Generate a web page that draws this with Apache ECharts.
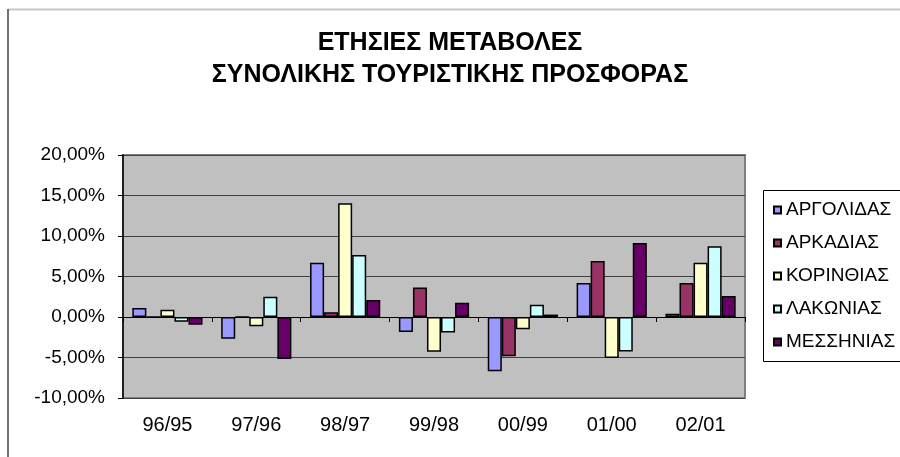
<!DOCTYPE html>
<html>
<head>
<meta charset="utf-8">
<script src="https://cdn.jsdelivr.net/npm/echarts@6/dist/echarts.min.js"></script>
<style>html,body{margin:0;padding:0;background:#fff;}#c{width:900px;height:457px;}</style>
</head>
<body>
<div id="c"></div>
<script>
const titleLines = ['ΕΤΗΣΙΕΣ ΜΕΤΑΒΟΛΕΣ', 'ΣΥΝΟΛΙΚΗΣ ΤΟΥΡΙΣΤΙΚΗΣ ΠΡΟΣΦΟΡΑΣ'];
const categories = ['96/95', '97/96', '98/97', '99/98', '00/99', '01/00', '02/01'];
const seriesNames = ['ΑΡΓΟΛΙΔΑΣ', 'ΑΡΚΑΔΙΑΣ', 'ΚΟΡΙΝΘΙΑΣ', 'ΛΑΚΩΝΙΑΣ', 'ΜΕΣΣΗΝΙΑΣ'];
const argolidas = [0.011, -0.027, 0.067, -0.0185, -0.067, 0.042, 0.004];
const arkadias  = [0.0, 0.0, 0.006, 0.0365, -0.0485, 0.069, 0.042];
const korinthias = [0.009, -0.0115, 0.1405, -0.043, -0.015, -0.0505, 0.067];
const lakonias  = [-0.006, 0.025, 0.0765, -0.019, 0.015, -0.0425, 0.0875];
const messinias = [-0.0095, -0.052, 0.021, 0.0175, 0.003, 0.0915, 0.026];
const yTicks = { min: -0.1, max: 0.2, interval: 0.05 };

const seriesData = [argolidas, arkadias, korinthias, lakonias, messinias];
const colors = ['#9999FF', '#993366', '#FFFFCC', '#CCFFFF', '#660066'];
const FONT = "'Liberation Sans', Arial, sans-serif";

const chart = echarts.init(document.getElementById('c'), null, { renderer: 'canvas' });
chart.setOption({
  animation: false,
  backgroundColor: '#ffffff',
  textStyle: { fontFamily: FONT },
  title: {
    text: titleLines.join('\n'),
    left: 'center',
    top: 27,
    padding: 0,
    textStyle: { fontFamily: FONT, fontSize: 25, fontWeight: 'bold', color: '#000', lineHeight: 32 }
  },
  graphic: [
    { type: 'line', shape: { x1: 8, y1: 9.5, x2: 900, y2: 9.5 }, style: { stroke: '#c8c8c8', lineWidth: 2 } },
    { type: 'line', shape: { x1: 8, y1: 9, x2: 8, y2: 457 }, style: { stroke: '#444', lineWidth: 1.5 } },
    { type: 'rect', shape: { x: 763.5, y: 190.5, width: 150, height: 171 }, style: { fill: '#fff', stroke: '#000', lineWidth: 1 }, z: 0 }
  ],
  legend: {
    orient: 'vertical',
    left: 773,
    top: 200,
    padding: 0,
    itemGap: 13,
    itemWidth: 7,
    itemHeight: 7,
    icon: 'rect',
    textStyle: { fontFamily: FONT, fontSize: 19, color: '#000', lineHeight: 20 },
    data: seriesNames,
    z: 5
  },
  grid: {
    left: 123, right: 155, top: 155, bottom: 59,
    show: true, backgroundColor: '#C0C0C0', borderColor: '#808080', borderWidth: 2
  },
  xAxis: [
    {
      type: 'category', data: categories, position: 'bottom',
      axisLine: { show: false, onZero: false }, axisTick: { show: false },
      axisLabel: { color: '#000', fontSize: 20, fontFamily: FONT, margin: 17 },
      splitLine: { show: false }
    },
    {
      type: 'category', data: categories, position: 'bottom',
      axisLine: { show: true, onZero: true, lineStyle: { color: '#000', width: 1 } },
      axisTick: { show: true, length: 5, lineStyle: { color: '#000' } },
      axisLabel: { show: false }, splitLine: { show: false }
    }
  ],
  yAxis: {
    type: 'value', min: yTicks.min, max: yTicks.max, interval: yTicks.interval,
    axisLine: { show: true, lineStyle: { color: '#000', width: 1.5 } },
    axisTick: { show: true, length: 5, lineStyle: { color: '#000' } },
    axisLabel: {
      color: '#000', fontSize: 19, fontFamily: FONT, margin: 18,
      formatter: v => (v * 100).toFixed(2).replace('.', ',') + '%'
    },
    splitLine: { show: true, lineStyle: { color: '#404040', width: 1 } }
  },
  series: seriesNames.map((n, i) => ({
    name: n, type: 'bar', xAxisIndex: 0, data: seriesData[i],
    barGap: '0%', barCategoryGap: '21%',
    itemStyle: { color: colors[i], borderColor: '#000', borderWidth: 1.5 }
  }))
});
</script>
</body>
</html>
